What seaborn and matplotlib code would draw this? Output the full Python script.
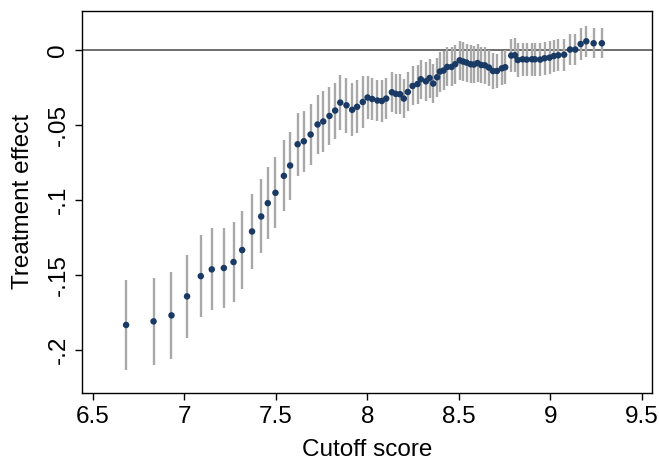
import numpy as np
import pandas as pd
import matplotlib
matplotlib.use("Agg")
import matplotlib.pyplot as plt
import seaborn as sns

cutoff = [6.682, 6.832, 6.930, 7.015, 7.090, 7.150, 7.216, 7.269, 7.316, 7.370,
          7.420, 7.456, 7.498, 7.544, 7.578, 7.619, 7.653, 7.690, 7.728, 7.759,
          7.793, 7.824, 7.852, 7.886, 7.917, 7.944, 7.975, 8.001, 8.026, 8.055,
          8.079, 8.103, 8.134, 8.156, 8.179, 8.199, 8.221, 8.247, 8.274, 8.292,
          8.320, 8.340, 8.360, 8.381, 8.396, 8.416, 8.436, 8.460, 8.480, 8.504,
          8.523, 8.542, 8.564, 8.582, 8.602, 8.622, 8.642, 8.664, 8.686, 8.708,
          8.735, 8.753, 8.786, 8.806, 8.822, 8.848, 8.870, 8.899, 8.915, 8.944,
          8.968, 8.995, 9.019, 9.043, 9.075, 9.107, 9.136, 9.165, 9.196, 9.236,
          9.281]

effect = [-0.1833, -0.1809, -0.1769, -0.1642, -0.1507, -0.1462, -0.1453, -0.1413, -0.1333, -0.1209,
          -0.1109, -0.1020, -0.0951, -0.0838, -0.0769, -0.0627, -0.0607, -0.0562, -0.0495, -0.0475,
          -0.0438, -0.0402, -0.0349, -0.0367, -0.0397, -0.0377, -0.0345, -0.0315, -0.0325, -0.0335,
          -0.0338, -0.0322, -0.0280, -0.0291, -0.0293, -0.0322, -0.0278, -0.0238, -0.0225, -0.0193,
          -0.0207, -0.0185, -0.0222, -0.0180, -0.0142, -0.0135, -0.0111, -0.0111, -0.0093, -0.0067,
          -0.0075, -0.0082, -0.0093, -0.0095, -0.0085, -0.0098, -0.0100, -0.0115, -0.0138, -0.0138,
          -0.0120, -0.0113, -0.0035, -0.0033, -0.0065, -0.0060, -0.0062, -0.0060, -0.0060, -0.0062,
          -0.0053, -0.0049, -0.0038, -0.0033, -0.0029, 0.0005, 0.0005, 0.0042, 0.0060, 0.0047,
          0.0047]

ci_half = [0.0300, 0.0290, 0.0290, 0.0277, 0.0273, 0.0273, 0.0270, 0.0267, 0.0263, 0.0250,
           0.0247, 0.0240, 0.0237, 0.0237, 0.0227, 0.0210, 0.0203, 0.0203, 0.0197, 0.0203,
           0.0193, 0.0187, 0.0183, 0.0183, 0.0177, 0.0177, 0.0173, 0.0145, 0.0143, 0.0140,
           0.0138, 0.0135, 0.0132, 0.0132, 0.0132, 0.0130, 0.0130, 0.0130, 0.0130, 0.0130,
           0.0130, 0.0130, 0.0130, 0.0130, 0.0133, 0.0133, 0.0130, 0.0130, 0.0130, 0.0128,
           0.0128, 0.0127, 0.0126, 0.0125, 0.0124, 0.0123, 0.0122, 0.0120, 0.0118, 0.0115,
           0.0113, 0.0113, 0.0113, 0.0112, 0.0112, 0.0111, 0.0110, 0.0110, 0.0110, 0.0110,
           0.0110, 0.0110, 0.0108, 0.0108, 0.0107, 0.0106, 0.0105, 0.0104, 0.0102, 0.0101,
           0.0101]

xticks = [6.5, 7, 7.5, 8, 8.5, 9, 9.5]
xticklabels = ["6.5", "7", "7.5", "8", "8.5", "9", "9.5"]
yticks = [0, -0.05, -0.1, -0.15, -0.2]
yticklabels = ["0", "-.05", "-.1", "-.15", "-.2"]

df = pd.DataFrame({"cutoff": cutoff, "effect": effect, "ci": ci_half})
df["lo"] = df["effect"] - df["ci"]
df["hi"] = df["effect"] + df["ci"]

sns.set_theme(style="white")
plt.rcParams["font.family"] = ["Liberation Sans", "DejaVu Sans"]

fig = plt.figure(figsize=(6.59, 4.61), dpi=100)
ax = fig.add_axes([0.1244, 0.1475, 0.865, 0.8295])

ax.axhline(0, color="#555555", lw=1.2, zorder=1)
ax.vlines(df["cutoff"], df["lo"], df["hi"], color="#a8a8a8", lw=1.7, zorder=2)
sns.scatterplot(data=df, x="cutoff", y="effect", ax=ax, color="#1a3a66",
                s=22, edgecolor="none", zorder=3, legend=False)

ax.set_xlim(6.441, 9.555)
ax.set_ylim(-0.2287, 0.0265)
ax.set_xticks(xticks)
ax.set_xticklabels(xticklabels)
ax.set_yticks(yticks)
ax.set_yticklabels(yticklabels, rotation=90, va="center")

ax.tick_params(axis="both", direction="out", length=5, width=1, color="black",
               labelsize=17.5, labelcolor="black", bottom=True, left=True, pad=4)
for sp in ax.spines.values():
    sp.set_visible(True)
    sp.set_color("black")
    sp.set_linewidth(1.0)

ax.set_xlabel("Cutoff score", fontsize=17.5, color="black", labelpad=8.5)
ax.set_ylabel("Treatment effect", fontsize=17.5, color="black", labelpad=10)
ax.grid(False)
ax.set_facecolor("white")
fig.patch.set_facecolor("white")

fig.savefig("out.png", dpi=100, facecolor="white")
